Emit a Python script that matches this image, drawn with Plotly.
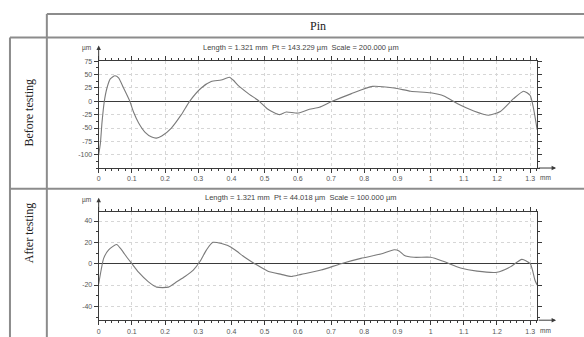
import plotly.graph_objects as go

# ---------------- data ----------------
before_x = [0.000, 0.005, 0.010, 0.017, 0.025, 0.035, 0.049, 0.060, 0.075, 0.094,
            0.105, 0.120, 0.140, 0.160, 0.174, 0.190, 0.219, 0.249, 0.274, 0.309,
            0.339, 0.369, 0.394, 0.405, 0.420, 0.450, 0.484, 0.510, 0.545, 0.565,
            0.600, 0.635, 0.665, 0.700, 0.760, 0.825, 0.890, 0.940, 1.000, 1.040,
            1.080, 1.130, 1.175, 1.210, 1.250, 1.280, 1.300, 1.310, 1.321]
before_y = [-100, -80, -40, 0, 25, 42, 48, 44, 25, 0,
            -20, -40, -58, -67, -69, -65, -50, -25, 0, 25,
            37, 40, 45, 40, 30, 15, 0, -15, -25, -20,
            -22, -15, -11, -1, 14, 28, 25, 19, 16, 10,
            -4, -18, -26, -19, 5, 19, 11, -13, -53]

after_x = [0.000, 0.008, 0.015, 0.030, 0.054, 0.069, 0.085, 0.100, 0.120, 0.150,
           0.175, 0.210, 0.235, 0.260, 0.285, 0.305, 0.325, 0.344, 0.370, 0.389,
           0.410, 0.440, 0.470, 0.510, 0.550, 0.580, 0.610, 0.670, 0.730, 0.790,
           0.850, 0.890, 0.905, 0.920, 0.950, 1.000, 1.040, 1.090, 1.140, 1.200,
           1.240, 1.275, 1.300, 1.315, 1.321]
after_y = [-19, -5, 5, 13, 18, 13, 6, 0, -8, -17,
           -22, -22, -17, -12, -6, 2, 13, 20, 19, 17,
           13, 6, 0, -7, -10, -12, -10, -6, 0, 5,
           9, 13, 12, 8, 6, 6, 2, -4, -7, -8,
           -3, 4, 0, -16, -20]

x_ticks = [0, 0.1, 0.2, 0.3, 0.4, 0.5, 0.6, 0.7, 0.8, 0.9, 1.0, 1.1, 1.2, 1.3]
x_ticktext = ["0", "0.1", "0.2", "0.3", "0.4", "0.5", "0.6", "0.7", "0.8", "0.9", "1", "1.1", "1.2", "1.3"]
y1_ticks = [-100, -75, -50, -25, 0, 25, 50, 75]
y2_ticks = [-40, -20, 0, 20, 40]

title_before = "Length = 1.321 mm  Pt = 143.229 µm  Scale = 200.000 µm"
title_after = "Length = 1.321 mm  Pt = 44.018 µm  Scale = 100.000 µm"
header = "Pin"
row_labels = ["Before testing", "After testing"]

# ---------------- layout helpers ----------------
W, H = 584, 337
def px(x):
    return x / W
def py(y):
    return 1 - y / H

AX_L, AX_R = 97, 537
P1_TOP, P1_BOT = 58, 166
P2_TOP, P2_BOT = 211, 320

FRAME = "#3a3a3a"
GRID = "#d6d6d6"
CURVE = "#7a7a7a"
TABLE = "#8c8c8c"
TICKFONT = dict(family="Liberation Sans, Arial, sans-serif", size=7, color="#555")

fig = go.Figure()
fig.add_trace(go.Scatter(x=before_x, y=before_y, mode="lines", line=dict(color=CURVE, width=1.1, shape="spline", smoothing=0.6),
                         xaxis="x", yaxis="y", showlegend=False, hoverinfo="skip"))
fig.add_trace(go.Scatter(x=after_x, y=after_y, mode="lines", line=dict(color=CURVE, width=1.1, shape="spline", smoothing=0.6),
                         xaxis="x2", yaxis="y2", showlegend=False, hoverinfo="skip"))

def xaxis_cfg(anchor):
    return dict(domain=[px(AX_L), px(AX_R)], anchor=anchor, range=[0, 1.321],
                tickvals=x_ticks, ticktext=x_ticktext, tickfont=TICKFONT,
                ticks="outside", ticklen=4, tickcolor=FRAME, tickwidth=1,
                showline=True, linecolor=FRAME, linewidth=1, mirror="allticks",
                showgrid=True, gridcolor=GRID, griddash="3px,3px", gridwidth=1,
                zeroline=False, fixedrange=True,
                minor=dict(dtick=0.02, tick0=0, ticks="outside", ticklen=2, tickcolor=FRAME, showgrid=False))

def yaxis_cfg(anchor, dom, rng, vals, minor_dt):
    return dict(domain=dom, anchor=anchor, range=rng,
                tickvals=vals, ticktext=[str(v) for v in vals], tickfont=TICKFONT,
                ticks="outside", ticklen=4, tickcolor=FRAME, tickwidth=1,
                showline=True, linecolor=FRAME, linewidth=1, mirror="allticks",
                showgrid=True, gridcolor=GRID, griddash="3px,3px", gridwidth=1,
                zeroline=True, zerolinecolor="#3a3a3a", zerolinewidth=1.3, fixedrange=True,
                minor=dict(dtick=minor_dt, tick0=0, ticks="outside", ticklen=2, tickcolor=FRAME, showgrid=False))

fig.update_layout(
    width=W, height=H, margin=dict(l=0, r=0, t=0, b=0),
    paper_bgcolor="white", plot_bgcolor="white",
    xaxis=xaxis_cfg("y"),
    yaxis=yaxis_cfg("x", [py(P1_BOT), py(P1_TOP)], [-125, 75], y1_ticks, 12.5),
    xaxis2=xaxis_cfg("y2"),
    yaxis2=yaxis_cfg("x2", [py(P2_BOT), py(P2_TOP)], [-53, 48], y2_ticks, 10),
)

shapes = []
def hline(x0, x1, y):
    shapes.append(dict(type="line", xref="paper", yref="paper", x0=px(x0), x1=px(x1), y0=py(y), y1=py(y),
                       line=dict(color=TABLE, width=2)))
def vline(x, y0, y1):
    shapes.append(dict(type="line", xref="paper", yref="paper", x0=px(x), x1=px(x), y0=py(y0), y1=py(y1),
                       line=dict(color=TABLE, width=2)))
hline(45, 584, 10)
hline(8, 584, 34)
hline(8, 584, 187)
vline(45, 10, 337)
vline(8, 34, 337)
fig.update_layout(shapes=shapes)

ann = []
def text(x, y, t, size=7, family="Liberation Sans, Arial, sans-serif", color="#444", angle=0, xanchor="center"):
    ann.append(dict(xref="paper", yref="paper", x=px(x), y=py(y), text=t, showarrow=False,
                    font=dict(family=family, size=size, color=color), textangle=angle,
                    xanchor=xanchor, yanchor="middle"))
def arrow(xh, yh, ax, ay):
    ann.append(dict(xref="paper", yref="paper", x=px(xh), y=py(yh), ax=ax, ay=ay, axref="pixel", ayref="pixel",
                    text="", showarrow=True, arrowhead=2, arrowsize=0.9, arrowwidth=1, arrowcolor=FRAME))

SERIF = "Liberation Serif, Times New Roman, serif"
text(317, 22, header, size=12, family=SERIF, color="#222")
text(27, 110, row_labels[0], size=12, family=SERIF, color="#222", angle=-90)
text(27, 232, row_labels[1], size=12, family=SERIF, color="#222", angle=-90)

text(300, 44, title_before, size=7.5)
text(300, 196, title_after, size=7.5)
text(85, 45, "µm", size=6.5)
text(85, 198, "µm", size=6.5)
text(545, 176, "mm", size=6.5)
text(545, 330, "mm", size=6.5)

arrow(AX_L, 42, 0, P1_TOP - 42)
arrow(AX_L, 196, 0, P2_TOP - 196)
arrow(556, P1_BOT, -(556 - AX_R), 0)
arrow(556, P2_BOT, -(556 - AX_R), 0)

fig.update_layout(annotations=ann)

fig.write_html("out.html", config={"displayModeBar": False, "staticPlot": True},
               post_script="document.body.style.margin='0';document.body.style.padding='0';document.body.style.overflow='hidden';")
